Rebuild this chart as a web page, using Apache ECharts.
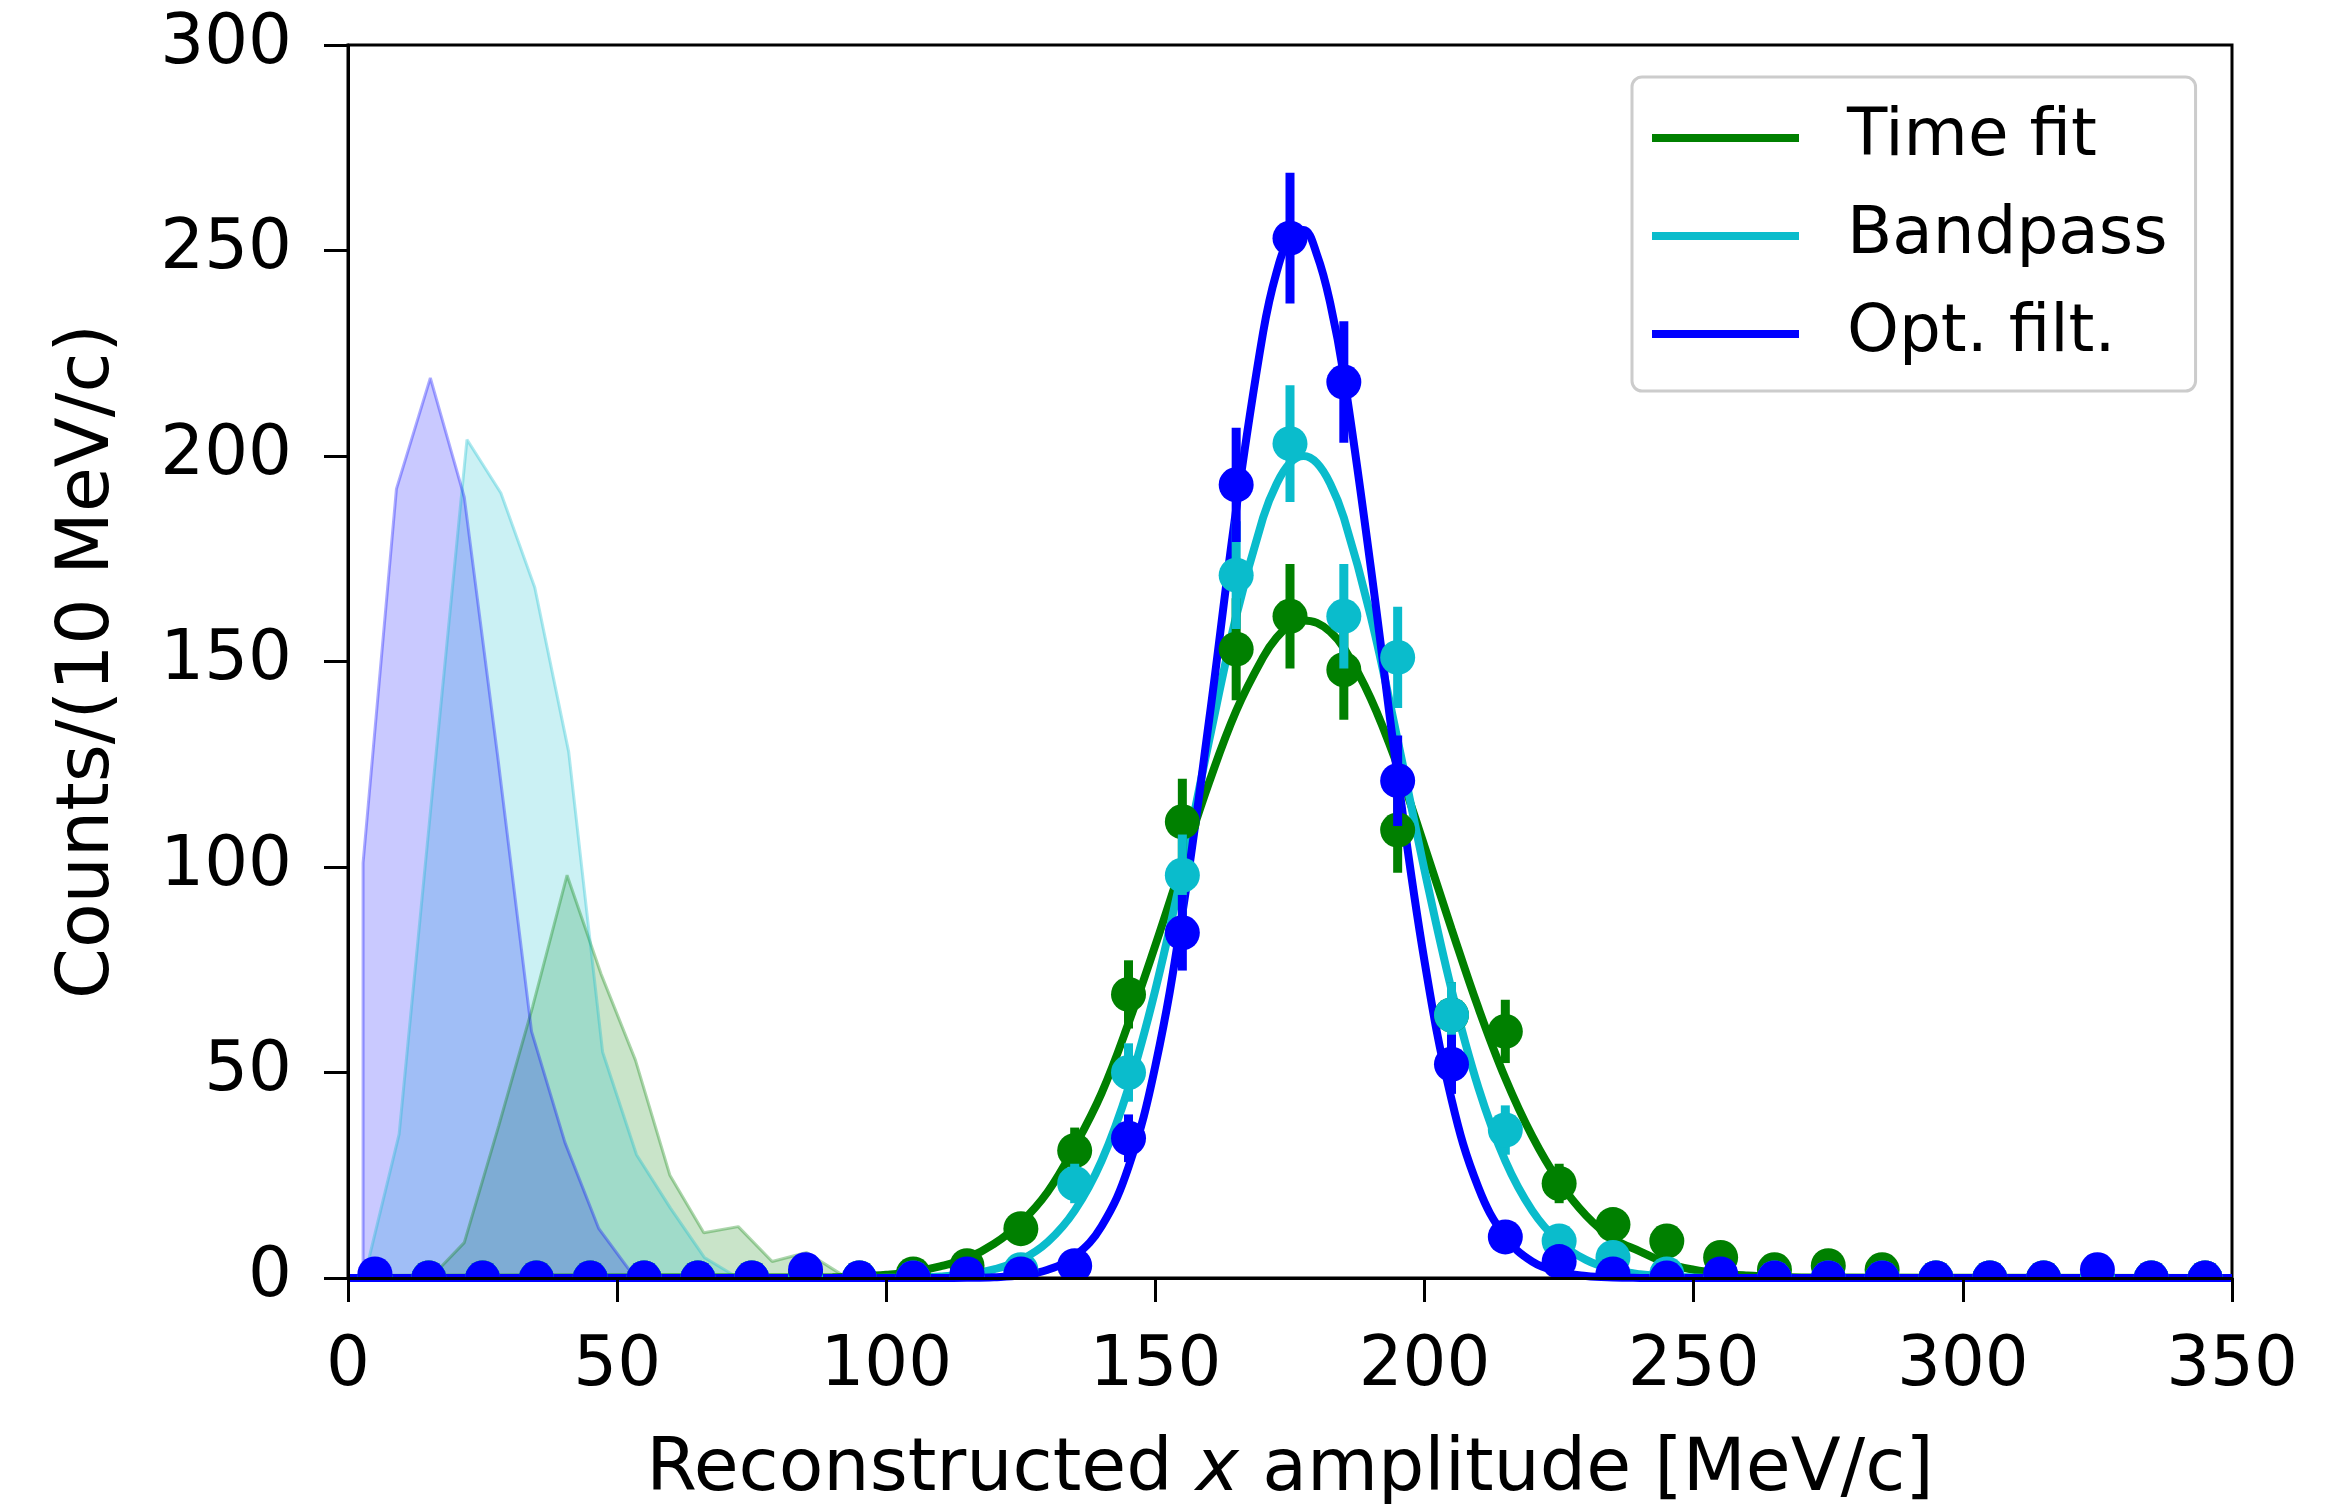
<!DOCTYPE html>
<html><head><meta charset="utf-8">
<script src="https://cdn.jsdelivr.net/npm/echarts@6/dist/echarts.min.js"></script>
<style>html,body{margin:0;padding:0;background:#fff}#c{width:2341px;height:1504px}</style>
</head><body><div id="c"></div>
<script>
// ---- data ----
const binCenters = [5,15,25,35,45,55,65,75,85,95,105,115,125,135,145,155,165,175,185,195,205,215,225,235,245,255,265,275,285,295,305,315,325,335,345];
const timeFitCounts  = [0,0,0,0,0,0,0,0,1,0,1,3,12,31,69,111,153,161,148,109,64,60,23,13,9,5,2,3,2,0,0,0,0,0,0];
const timeFitErrors  = [0,0,0,0,0,0,0,0,1,0,1,1.7,3.5,5.6,8.3,10.5,12.4,12.7,12.2,10.4,8,7.7,4.8,3.6,3,2.2,1.4,1.7,1.4,0,0,0,0,0,0];
const bandpassCounts = [0,0,0,0,0,0,0,0,0,0,0,0,2,23,50,98,171,203,161,151,64,36,9,5,1,0,0,0,0,0,0,0,0,0,0];
const bandpassErrors = [0,0,0,0,0,0,0,0,0,0,0,0,1.4,4.8,7.1,9.9,13.1,14.2,12.7,12.3,8,6,3,2.2,1,0,0,0,0,0,0,0,0,0,0];
const optFiltCounts  = [1,0,0,0,0,0,0,0,2,0,0,1,1,3,34,84,193,253,218,121,52,10,4,1,0,1,0,0,0,0,0,0,2,0,0];
const optFiltErrors  = [1,0,0,0,0,0,0,0,1.4,0,0,1,1,1.7,5.8,9.2,13.9,15.9,14.8,11,7.2,3.2,2,1,0,1,0,0,0,0,0,0,1.4,0,0];

const fitX          = [0,90,95,100,105,110,115,120,125,130,135,140,145,150,155,160,165,170,172.5,175,177.5,180,182.5,185,190,195,200,205,210,215,220,225,230,235,240,245,250,255,260,265,270,350];
const timeFitCurve  = [0,0.2,0.4,0.8,1.5,2.8,4.8,8.3,13.5,21,32,45,62,81,101,120.7,138,151,155.8,158.8,160,159.4,157.2,153.3,141,124.5,105,85,65.7,48.6,34.5,23.4,15.2,9.6,6.5,3.6,2,1.1,0.6,0.3,0.15,0];
const bandpassCurve = [0,0,0,0.05,0.14,0.36,0.9,2.1,4.4,8.8,16.4,28.5,46.3,70.2,99.2,130.9,161,185,193.2,198.3,200,198.3,193.2,185,161,130.9,99.2,70.2,46.3,28.5,16.4,8.8,4.4,2.1,0.9,0.36,0.14,0.05,0,0,0,0];
const optFiltCurve  = [0,0,0,0,0,0,0.05,0.2,0.65,2.0,5.3,12.6,27,51.7,88.7,136,187,230,244.7,253,255,249,237,219.6,173,122,77,43.5,22,10,4,1.5,0.5,0.14,0.03,0,0,0,0,0,0,0];

const optFiltNoiseX  = [2.8,2.8,9.0,15.3,21.6,27.8,34.1,40.3,46.6,52.8,59.1];
const optFiltNoise   = [0,101,192,219,190,127,60,33,12,1,0];
const bandpassNoiseX = [3.2,9.5,15.8,22.1,28.4,34.7,41.0,47.3,53.6,59.9,66.2,72.5];
const bandpassNoise  = [1,35,120,204,191,168,128,55,30,17,5,0];
const timeFitNoiseX  = [15.3,21.6,28.0,34.3,40.7,47.0,53.4,59.8,66.1,72.5,78.8,85.2,91.5,97.9];
const timeFitNoise   = [0,8.6,37,66,98,74,53,25,11,12.5,4,6.2,1,0];

const seriesNames = ['Time fit','Bandpass','Opt. filt.'];
const xTicks = {min:0, max:350, interval:50};
const yTicks = {min:0, max:300, interval:50};

// ---- styling ----
const GREEN = '#008000', CYAN = '#0abccc', BLUE = '#0000ff';
const FONT = 'DejaVu Sans';

const zip = (xs, ys) => xs.map((x, i) => [x, ys[i]]);
const zip3 = (xs, ys, es) => xs.map((x, i) => [x, ys[i], es[i]]);

function pointsRenderer(color) {
  return function (params, api) {
    const x = api.value(0), y = api.value(1), e = api.value(2);
    const p = api.coord([x, y]);
    const t = api.coord([x, y + e]);
    const b = api.coord([x, y - e]);
    const cs = params.coordSys;
    const clipRect = () => ({ type: 'rect', shape: { x: cs.x, y: cs.y, width: cs.width, height: cs.height } });
    return {
      type: 'group',
      children: [
        { type: 'line', clipPath: clipRect(), shape: { x1: p[0], y1: t[1], x2: p[0], y2: b[1] }, style: { stroke: color, lineWidth: 9 } },
        { type: 'circle', clipPath: clipRect(), shape: { cx: p[0], cy: p[1], r: 17.5 }, style: { fill: color } }
      ]
    };
  };
}

function noiseSeries(xs, ys, color, z) {
  return {
    type: 'line', data: zip(xs, ys), showSymbol: false, symbol: 'none', silent: true, z: z,
    lineStyle: { color: color, opacity: 0.32, width: 3 },
    areaStyle: { color: color, opacity: 0.21 }
  };
}
function fitSeries(name, ys, color, z) {
  return {
    name: name, type: 'line', data: zip(fitX, ys), smooth: 0.4, showSymbol: false, symbol: 'none', z: z,
    itemStyle: { color: color }, lineStyle: { color: color, width: 8 }
  };
}
function pointSeries(name, ys, es, color, z) {
  return {
    name: name, type: 'custom', clip: true, z: z, silent: true,
    data: zip3(binCenters, ys, es), renderItem: pointsRenderer(color),
    itemStyle: { color: color }
  };
}

const chart = echarts.init(document.getElementById('c'), null, { renderer: 'canvas' });
chart.setOption({
  animation: false,
  backgroundColor: '#fff',
  grid: { left: 348, right: 109, top: 45, bottom: 226, containLabel: false, outerBoundsMode: 'none',
          show: true, borderColor: '#000', borderWidth: 3, backgroundColor: 'transparent' },
  xAxis: {
    type: 'value', min: xTicks.min, max: xTicks.max, interval: xTicks.interval, z: 10,
    name: 'Reconstructed {i|x} amplitude [MeV/c]', nameLocation: 'middle', nameGap: 157,
    nameTextStyle: { fontFamily: FONT, fontSize: 73, color: '#000',
      rich: { i: { fontFamily: FONT, fontSize: 73, fontStyle: 'italic', color: '#000' } } },
    axisLine: { show: true, onZero: false, lineStyle: { color: '#000', width: 3 } },
    axisTick: { show: true, inside: false, length: 24, lineStyle: { color: '#000', width: 3 } },
    axisLabel: { margin: 55, fontFamily: FONT, fontSize: 69, color: '#000' },
    splitLine: { show: false }
  },
  yAxis: {
    type: 'value', min: yTicks.min, max: yTicks.max, interval: yTicks.interval, z: 10,
    name: 'Counts/(10 MeV/c)', nameLocation: 'middle', nameGap: 222,
    nameTextStyle: { fontFamily: FONT, fontSize: 73, color: '#000' },
    axisLine: { show: true, onZero: false, lineStyle: { color: '#000', width: 3 } },
    axisTick: { show: true, inside: false, length: 24, lineStyle: { color: '#000', width: 3 } },
    axisLabel: { margin: 56, fontFamily: FONT, fontSize: 69, color: '#000' },
    splitLine: { show: false }
  },
  legend: {
    data: seriesNames, orient: 'vertical', left: 1632, top: 77, selectedMode: false,
    icon: 'rect', itemWidth: 147, itemHeight: 8, itemGap: 28,
    padding: [26, 28, 22, 20],
    backgroundColor: 'rgba(255,255,255,0.8)', borderColor: '#cccccc', borderWidth: 3, borderRadius: 10,
    textStyle: { fontFamily: FONT, fontSize: 66, color: '#000', lineHeight: 70, padding: [0, 0, 0, 43] }
  },
  series: [
    noiseSeries(timeFitNoiseX, timeFitNoise, GREEN, 1),
    noiseSeries(bandpassNoiseX, bandpassNoise, CYAN, 1),
    noiseSeries(optFiltNoiseX, optFiltNoise, BLUE, 1),
    fitSeries(seriesNames[0], timeFitCurve, GREEN, 3),
    fitSeries(seriesNames[1], bandpassCurve, CYAN, 3),
    fitSeries(seriesNames[2], optFiltCurve, BLUE, 3),
    pointSeries('Time fit data', timeFitCounts, timeFitErrors, GREEN, 4),
    pointSeries('Bandpass data', bandpassCounts, bandpassErrors, CYAN, 4),
    pointSeries('Opt. filt. data', optFiltCounts, optFiltErrors, BLUE, 4)
  ]
});
</script></body></html>
